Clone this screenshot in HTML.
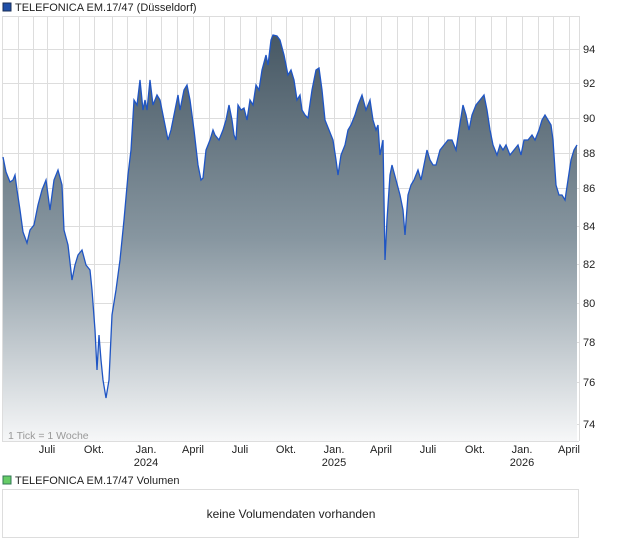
<!DOCTYPE html>
<html><head><meta charset="utf-8"><style>
body{margin:0;background:#fff;width:620px;height:546px;overflow:hidden;font-family:"Liberation Sans",sans-serif}
</style></head><body>
<svg width="620" height="546" xmlns="http://www.w3.org/2000/svg" font-family="Liberation Sans, sans-serif" font-size="11">
<defs>
<linearGradient id="g" gradientUnits="userSpaceOnUse" x1="0" y1="35" x2="0" y2="441">
<stop offset="0" stop-color="#475864"/><stop offset="0.5" stop-color="#8796a0"/><stop offset="1" stop-color="#f6f7f8"/>
</linearGradient>
</defs>
<rect x="3" y="3" width="8" height="8" fill="#1f4fa8" stroke="#1a2e55" stroke-width="1"/>
<text x="15" y="11" fill="#222">TELEFONICA EM.17/47 (Düsseldorf)</text>
<g stroke="#dddddd" stroke-width="1">
<line x1="2" y1="16.5" x2="579" y2="16.5"/>
<line x1="2" y1="49.5" x2="579" y2="49.5"/><line x1="2" y1="83.5" x2="579" y2="83.5"/>
<line x1="2" y1="118.5" x2="579" y2="118.5"/><line x1="2" y1="153.5" x2="579" y2="153.5"/>
<line x1="2" y1="188.5" x2="579" y2="188.5"/><line x1="2" y1="226.5" x2="579" y2="226.5"/>
<line x1="2" y1="264.5" x2="579" y2="264.5"/><line x1="2" y1="303.5" x2="579" y2="303.5"/>
<line x1="2" y1="342.5" x2="579" y2="342.5"/><line x1="2" y1="382.5" x2="579" y2="382.5"/>
<line x1="2" y1="424.5" x2="579" y2="424.5"/><line x1="2" y1="441.5" x2="579" y2="441.5"/>
<line x1="2.5" y1="16" x2="2.5" y2="441"/><line x1="579.5" y1="16" x2="579.5" y2="441"/>
<line x1="18.5" y1="16" x2="18.5" y2="441"/><line x1="33.5" y1="16" x2="33.5" y2="441"/>
<line x1="47.5" y1="16" x2="47.5" y2="441"/><line x1="63.5" y1="16" x2="63.5" y2="441"/>
<line x1="79.5" y1="16" x2="79.5" y2="441"/><line x1="94.5" y1="16" x2="94.5" y2="441"/>
<line x1="112.5" y1="16" x2="112.5" y2="441"/><line x1="127.5" y1="16" x2="127.5" y2="441"/>
<line x1="146.5" y1="16" x2="146.5" y2="441"/><line x1="161.5" y1="16" x2="161.5" y2="441"/>
<line x1="177.5" y1="16" x2="177.5" y2="441"/><line x1="193.5" y1="16" x2="193.5" y2="441"/>
<line x1="209.5" y1="16" x2="209.5" y2="441"/><line x1="224.5" y1="16" x2="224.5" y2="441"/>
<line x1="240.5" y1="16" x2="240.5" y2="441"/><line x1="256.5" y1="16" x2="256.5" y2="441"/>
<line x1="271.5" y1="16" x2="271.5" y2="441"/><line x1="286.5" y1="16" x2="286.5" y2="441"/>
<line x1="302.5" y1="16" x2="302.5" y2="441"/><line x1="318.5" y1="16" x2="318.5" y2="441"/>
<line x1="334.5" y1="16" x2="334.5" y2="441"/><line x1="350.5" y1="16" x2="350.5" y2="441"/>
<line x1="366.5" y1="16" x2="366.5" y2="441"/><line x1="381.5" y1="16" x2="381.5" y2="441"/>
<line x1="397.5" y1="16" x2="397.5" y2="441"/><line x1="412.5" y1="16" x2="412.5" y2="441"/>
<line x1="428.5" y1="16" x2="428.5" y2="441"/><line x1="444.5" y1="16" x2="444.5" y2="441"/>
<line x1="459.5" y1="16" x2="459.5" y2="441"/><line x1="475.5" y1="16" x2="475.5" y2="441"/>
<line x1="491.5" y1="16" x2="491.5" y2="441"/><line x1="506.5" y1="16" x2="506.5" y2="441"/>
<line x1="522.5" y1="16" x2="522.5" y2="441"/><line x1="538.5" y1="16" x2="538.5" y2="441"/>
<line x1="553.5" y1="16" x2="553.5" y2="441"/><line x1="569.5" y1="16" x2="569.5" y2="441"/>
</g>
<polygon fill="url(#g)" points="3,441 3,157 6,172 10,182 13,180 15,175 17,190 20,210 23,232 27,243 30,230 34,225 38,205 42,190 46,180 48,195 50,210 54,180 58,170 62,185 64,230 68,245 72,280 75,265 78,255 82,250 86,265 90,270 92,290 95,330 97,370 99,335 101,360 103,380 106,398 109,380 112,315 116,290 120,260 124,220 128,175 131,150 134,100 137,105 140,80 143,110 145,100 147,110 150,80 153,105 157,95 160,100 164,120 168,140 171,130 175,110 178,95 180,110 184,90 187,85 190,100 194,130 198,165 201,180 203,178 206,150 210,140 213,130 215,135 219,140 223,130 226,120 229,105 232,120 234,135 236,140 238,105 241,110 244,108 247,120 250,100 253,105 256,85 259,90 262,70 266,55 268,65 271,40 273,35 277,36 280,40 284,55 288,75 291,70 294,80 297,100 300,95 302,110 305,115 308,118 312,90 316,70 319,68 322,90 325,120 329,130 333,140 336,160 338,175 341,155 345,145 348,130 351,125 355,115 358,105 362,95 366,110 370,100 373,120 376,130 378,125 380,155 383,140 385,260 387,220 390,175 392,165 396,180 400,195 403,210 405,235 408,195 411,185 414,180 418,170 421,180 424,165 427,150 430,160 433,165 436,165 440,150 444,145 448,140 452,140 456,150 459,130 463,105 466,115 469,130 472,115 476,105 480,100 484,95 487,110 490,130 493,145 497,155 500,145 503,150 506,145 510,155 514,150 518,145 521,155 524,140 528,140 532,135 535,140 539,130 542,120 545,115 548,120 551,125 553,140 556,185 559,195 562,195 565,200 568,180 571,160 574,150 577,145 577,441"/>
<polyline fill="none" stroke="#1f55c4" stroke-width="1.3" points="3,157 6,172 10,182 13,180 15,175 17,190 20,210 23,232 27,243 30,230 34,225 38,205 42,190 46,180 48,195 50,210 54,180 58,170 62,185 64,230 68,245 72,280 75,265 78,255 82,250 86,265 90,270 92,290 95,330 97,370 99,335 101,360 103,380 106,398 109,380 112,315 116,290 120,260 124,220 128,175 131,150 134,100 137,105 140,80 143,110 145,100 147,110 150,80 153,105 157,95 160,100 164,120 168,140 171,130 175,110 178,95 180,110 184,90 187,85 190,100 194,130 198,165 201,180 203,178 206,150 210,140 213,130 215,135 219,140 223,130 226,120 229,105 232,120 234,135 236,140 238,105 241,110 244,108 247,120 250,100 253,105 256,85 259,90 262,70 266,55 268,65 271,40 273,35 277,36 280,40 284,55 288,75 291,70 294,80 297,100 300,95 302,110 305,115 308,118 312,90 316,70 319,68 322,90 325,120 329,130 333,140 336,160 338,175 341,155 345,145 348,130 351,125 355,115 358,105 362,95 366,110 370,100 373,120 376,130 378,125 380,155 383,140 385,260 387,220 390,175 392,165 396,180 400,195 403,210 405,235 408,195 411,185 414,180 418,170 421,180 424,165 427,150 430,160 433,165 436,165 440,150 444,145 448,140 452,140 456,150 459,130 463,105 466,115 469,130 472,115 476,105 480,100 484,95 487,110 490,130 493,145 497,155 500,145 503,150 506,145 510,155 514,150 518,145 521,155 524,140 528,140 532,135 535,140 539,130 542,120 545,115 548,120 551,125 553,140 556,185 559,195 562,195 565,200 568,180 571,160 574,150 577,145"/>
<text x="8" y="439" fill="#999" font-size="10.5">1 Tick = 1 Woche</text>
<g fill="#222" font-size="11">
<text x="583" y="53">94</text><text x="583" y="87">92</text><text x="583" y="122">90</text>
<text x="583" y="157">88</text><text x="583" y="192">86</text><text x="583" y="230">84</text>
<text x="583" y="268">82</text><text x="583" y="307">80</text><text x="583" y="346">78</text>
<text x="583" y="386">76</text><text x="583" y="428">74</text>
</g>
<g fill="#222" font-size="11" text-anchor="middle">
<text x="47" y="453">Juli</text><text x="94" y="453">Okt.</text>
<text x="146" y="453">Jan.</text><text x="146" y="466">2024</text>
<text x="193" y="453">April</text><text x="240" y="453">Juli</text><text x="286" y="453">Okt.</text>
<text x="334" y="453">Jan.</text><text x="334" y="466">2025</text>
<text x="381" y="453">April</text><text x="428" y="453">Juli</text><text x="475" y="453">Okt.</text>
<text x="522" y="453">Jan.</text><text x="522" y="466">2026</text>
<text x="569" y="453">April</text>
</g>
<rect x="3" y="476" width="8" height="8" fill="#6c6" stroke="#375" stroke-width="1"/>
<text x="15" y="484" fill="#222">TELEFONICA EM.17/47 Volumen</text>
<rect x="2.5" y="489.5" width="576" height="48" fill="#fff" stroke="#ddd"/>
<text x="291" y="518" fill="#222" font-size="12" text-anchor="middle">keine Volumendaten vorhanden</text>
</svg>
</body></html>
